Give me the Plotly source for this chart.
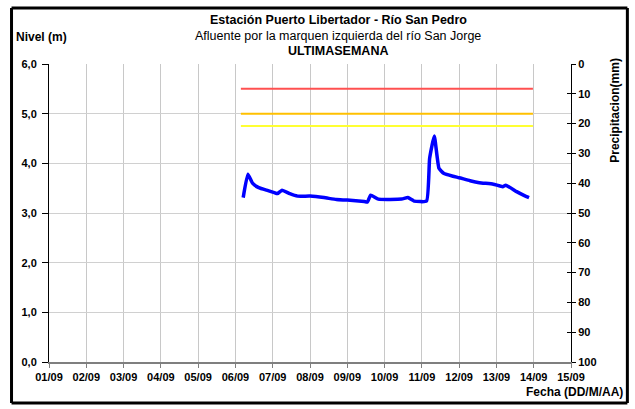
import plotly.graph_objects as go

# ---- data ----
fecha = [
    "2014-09-06 05:00", "2014-09-06 08:00", "2014-09-06 11:00", "2014-09-06 15:00",
    "2014-09-06 21:00", "2014-09-07 01:00", "2014-09-07 03:00", "2014-09-07 06:00",
    "2014-09-07 11:00", "2014-09-07 16:00", "2014-09-08 00:00", "2014-09-08 09:00",
    "2014-09-08 17:00", "2014-09-09 00:00", "2014-09-09 11:00", "2014-09-09 13:00",
    "2014-09-09 15:00", "2014-09-09 20:00", "2014-09-10 11:00", "2014-09-10 15:00",
    "2014-09-10 19:00", "2014-09-11 03:00", "2014-09-11 05:00", "2014-09-11 08:00",
    "2014-09-11 11:00", "2014-09-11 14:00", "2014-09-11 20:00", "2014-09-12 00:00",
    "2014-09-12 07:00", "2014-09-12 13:00", "2014-09-12 22:00", "2014-09-13 04:00",
    "2014-09-13 06:00", "2014-09-13 13:00", "2014-09-13 18:00", "2014-09-13 21:00",
]
nivel = [
    3.31, 3.78, 3.60, 3.51,
    3.45, 3.41, 3.39, 3.46,
    3.39, 3.34, 3.34, 3.31,
    3.27, 3.26, 3.23, 3.22,
    3.36, 3.28, 3.28, 3.31,
    3.24, 3.24, 4.10, 4.55,
    3.90, 3.80, 3.74, 3.71,
    3.65, 3.61, 3.58, 3.53,
    3.56, 3.43, 3.35, 3.31,
]

umbral_inicio = "2014-09-06 03:30"
umbral_fin = "2014-09-13 23:30"
umbral_niveles = [5.5, 5.0, 4.75]
umbral_colores = ["#FF5050", "#FFC000", "#FFFF33"]

x_rango = ["2014-09-01", "2014-09-15"]
nivel_ticks = [0, 1, 2, 3, 4, 5, 6]
precip_ticks = [0, 10, 20, 30, 40, 50, 60, 70, 80, 90, 100]

FONT = "Liberation Sans, Arial, sans-serif"

fig = go.Figure()

for lvl, col in zip(umbral_niveles, umbral_colores):
    fig.add_trace(go.Scatter(
        x=[umbral_inicio, umbral_fin], y=[lvl, lvl], mode="lines",
        line=dict(color=col, width=2), hoverinfo="skip", showlegend=False))

fig.add_trace(go.Scatter(
    x=fecha, y=nivel, mode="lines",
    line=dict(color="#0000FF", width=3.5, shape="spline", smoothing=0.4),
    showlegend=False))

# invisible traces to activate the precipitation axes
fig.add_trace(go.Scatter(x=[x_rango[0]], y=[None], yaxis="y2", showlegend=False,
                         hoverinfo="skip"))
fig.add_trace(go.Scatter(x=[x_rango[0]], y=[None], yaxis="y3", showlegend=False,
                         hoverinfo="skip"))

fig.update_layout(
    width=635, height=409,
    margin=dict(l=49, r=64, t=64, b=47, autoexpand=False),
    paper_bgcolor="white", plot_bgcolor="white",
    separators=",.",
    font=dict(family=FONT, size=11, color="black"),
    xaxis=dict(
        type="date", range=x_rango, dtick=86400000, tickformat="%d/%m",
        showgrid=True, gridcolor="#C8C8C8", gridwidth=1,
        showline=True, linecolor="#7F7F7F", linewidth=2,
        ticks="outside", ticklen=4, tickcolor="#7F7F7F",
        tickfont=dict(family=FONT, size=11, color="black", weight="bold"),
        zeroline=False, fixedrange=True,
    ),
    yaxis=dict(
        range=[0, 6], tickvals=nivel_ticks, tickformat=".1f",
        showgrid=True, gridcolor="#D0D0D0", gridwidth=1,
        showline=True, linecolor="black", linewidth=1,
        ticks="outside", ticklen=6, tickcolor="black", ticklabelstandoff=3,
        tickfont=dict(family=FONT, size=11, color="black", weight="bold"),
        zeroline=False,
    ),
    yaxis2=dict(
        overlaying="y", side="right", range=[100, 0], tickvals=precip_ticks,
        showgrid=False, showline=True, linecolor="black", linewidth=1,
        ticks="outside", ticklen=4, tickcolor="black",
        tickfont=dict(family=FONT, size=11, color="black", weight="bold"),
        zeroline=False,
    ),
    yaxis3=dict(
        overlaying="y", side="right", range=[100, 0], tickvals=precip_ticks,
        showgrid=False, showline=False, showticklabels=False,
        ticks="inside", ticklen=4, tickcolor="black", zeroline=False,
    ),
)

ann = [
    dict(text="<b>Estación Puerto Libertador - Río San Pedro</b>", x=0.554, y=1.148,
         font=dict(size=12.5)),
    dict(text="Afluente por la marquen izquierda del río San Jorge", x=0.554, y=1.094,
         font=dict(size=12.5)),
    dict(text="<b>ULTIMASEMANA</b>", x=0.554, y=1.044, font=dict(size=12.5)),
    dict(text="<b>Nivel (m)</b>", x=-0.067, y=1.091, xanchor="left", font=dict(size=12)),
    dict(text="<b>Fecha (DD/M/AA)</b>", x=1.103, y=-0.1007, xanchor="right",
         font=dict(size=12)),
    dict(text="<b>Precipitacion(mm)</b>", x=1.084, y=0.846, textangle=-90,
         font=dict(size=12)),
]
for a in ann:
    a.setdefault("xanchor", "center")
    fig.add_annotation(xref="paper", yref="paper", showarrow=False,
                       yanchor="middle", font_family=FONT, **a)

# outer frame
fx0, fx1, fy0, fy1 = -0.0718, 1.108, -0.1376, 1.188
for (a0, b0, a1, b1) in [(fx0, fy1, fx1, fy1), (fx0, fy0, fx1, fy0),
                         (fx0, fy0, fx0, fy1), (fx1, fy0, fx1, fy1)]:
    fig.add_shape(type="line", xref="paper", yref="paper",
                  x0=a0, y0=b0, x1=a1, y1=b1,
                  line=dict(color="black", width=3))

fig.write_html(
    "out.html",
    config={"displayModeBar": False},
    post_script="document.body.style.margin='0';document.body.style.overflow='hidden';",
)
